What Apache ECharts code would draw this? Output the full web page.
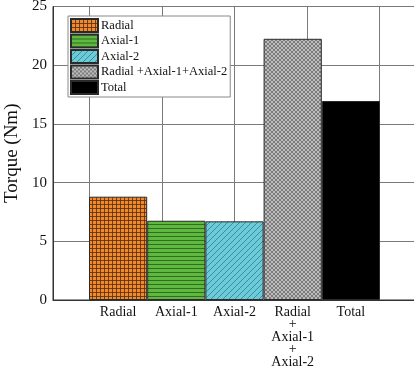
<!DOCTYPE html>
<html>
<head>
<meta charset="utf-8">
<script src="https://cdn.jsdelivr.net/npm/echarts@6/dist/echarts.min.js"></script>
<style>
  html, body { margin: 0; padding: 0; background: #fff; }
  #chart { width: 414px; height: 376px; }
</style>
</head>
<body>
<div id="chart"></div>
<script>
// Torque contributions (Nm)
const categories = ['Radial', 'Axial-1', 'Axial-2', 'Radial\n+\nAxial-1\n+\nAxial-2', 'Total'];
const seriesNames = ['Radial', 'Axial-1', 'Axial-2', 'Radial +Axial-1+Axial-2', 'Total'];
const torque = [8.8, 6.75, 6.7, 22.25, 16.95];
const yTicks = [0, 5, 10, 15, 20, 25];

const FONT = '"Liberation Serif", "Times New Roman", serif';

// Small repeating canvas tiles used as bar fills
function tile(size, draw) {
  const c = document.createElement('canvas');
  c.width = size; c.height = size;
  const g = c.getContext('2d');
  draw(g, size);
  return { image: c, repeat: 'repeat' };
}
const fills = [
  // orange with dark mesh
  tile(4, (g, s) => {
    g.fillStyle = '#f4892c'; g.fillRect(0, 0, s, s);
    g.fillStyle = 'rgba(80,45,20,0.8)';
    g.fillRect(0, 0, s, 1); g.fillRect(0, 0, 1, s);
  }),
  // green with horizontal lines
  tile(4, (g, s) => {
    g.fillStyle = '#5fb93f'; g.fillRect(0, 0, s, s);
    g.fillStyle = '#2f6d22'; g.fillRect(0, 0, s, 1);
  }),
  // cyan with diagonal hatching
  tile(6, (g, s) => {
    g.fillStyle = '#6ccbd8'; g.fillRect(0, 0, s, s);
    g.fillStyle = '#3d8d9a';
    for (let i = 0; i < s; i++) g.fillRect(i, s - 1 - i, 1, 1);
  }),
  // grey cross-hatch
  tile(4, (g, s) => {
    g.fillStyle = '#bdbdbd'; g.fillRect(0, 0, s, s);
    g.fillStyle = '#7b7b7b';
    for (let i = 0; i < s; i++) { g.fillRect(i, i, 1, 1); g.fillRect(i, s - 1 - i, 1, 1); }
  }),
  '#000000'
];

const chart = echarts.init(document.getElementById('chart'), null, { renderer: 'canvas' });

const series = seriesNames.map((name, i) => ({
  name: name,
  type: 'bar',
  xAxisIndex: 1,
  yAxisIndex: 1,
  barGap: '-100%',
  barCategoryGap: 0,
  data: categories.map((c, j) => (j === i ? torque[i] : '-')),
  itemStyle: { color: fills[i], borderColor: '#2a2a2a', borderWidth: 1 },
  emphasis: { disabled: true },
  z: 3
}));

chart.setOption({
  animation: false,
  backgroundColor: '#fff',
  grid: [
    // frame with gridlines and y scale
    { left: 53, right: -2, top: 6.5, bottom: 76, outerBoundsMode: 'none', containLabel: false,
      show: true, borderColor: '#333', borderWidth: 1, backgroundColor: 'transparent' },
    // band holding the bars
    { left: 89, right: 34, top: 6.5, bottom: 76, outerBoundsMode: 'none', containLabel: false }
  ],
  legend: {
    orient: 'vertical',
    left: 68, top: 16,
    padding: [2, 3, 2, 2],
    itemGap: 0.5,
    itemWidth: 27, itemHeight: 13,
    backgroundColor: '#fff',
    borderColor: '#888', borderWidth: 1,
    icon: 'rect',
    textStyle: { fontFamily: FONT, fontSize: 12.5, lineHeight: 13, color: '#111', padding: [0, 0, 0, -2] },
    data: seriesNames,
    z: 10
  },
  xAxis: [
    {
      type: 'value', gridIndex: 0, min: 0.5, max: 5.5, splitNumber: 5,
      axisLine: { show: true, lineStyle: { color: '#333', width: 1 } },
      axisTick: { show: false }, axisLabel: { show: false },
      splitLine: { show: true, lineStyle: { color: '#7a7a7a', width: 1 } }
    },
    {
      type: 'category', gridIndex: 1, data: categories,
      axisLine: { show: false }, axisTick: { show: false },
      axisLabel: { fontFamily: FONT, fontSize: 14, color: '#111', margin: 6, lineHeight: 12.5, interval: 0 },
      splitLine: { show: false }
    }
  ],
  yAxis: [
    {
      type: 'value', gridIndex: 0, min: yTicks[0], max: yTicks[yTicks.length - 1], interval: 5,
      name: 'Torque (Nm)', nameLocation: 'middle', nameGap: 23,
      nameTextStyle: { fontFamily: FONT, fontSize: 19, color: '#111' },
      axisLine: { show: true, lineStyle: { color: '#333', width: 1 } },
      axisTick: { show: false },
      axisLabel: { fontFamily: FONT, fontSize: 15, color: '#111', margin: 6 },
      splitLine: { show: true, lineStyle: { color: '#7a7a7a', width: 1 } }
    },
    {
      type: 'value', gridIndex: 1, min: yTicks[0], max: yTicks[yTicks.length - 1], interval: 5,
      show: false, splitLine: { show: false }
    }
  ],
  series: series
});
</script>
</body>
</html>
